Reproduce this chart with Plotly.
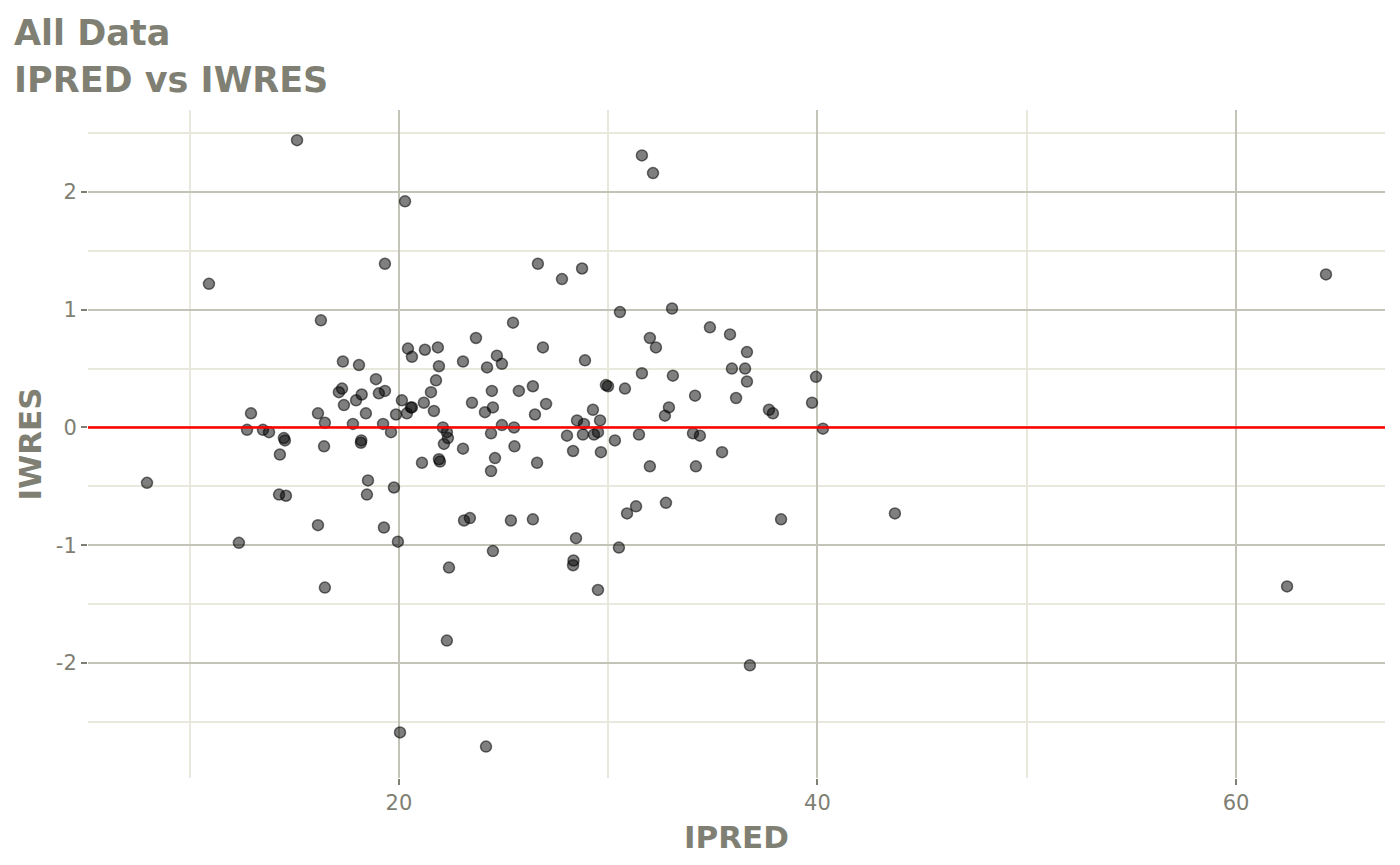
import pandas as pd
import plotly.express as px

# data
ipred = [
    7.96, 10.92, 12.35, 12.74, 12.93, 13.50, 13.79, 14.31, 14.27, 14.50,
    14.55, 14.60, 15.13, 16.13, 16.13, 16.27, 16.42, 16.46, 16.46, 17.13,
    17.28, 17.32, 17.37, 17.80, 17.95, 18.09, 18.18, 18.20, 18.22, 18.42,
    18.47, 18.52, 18.90, 19.04, 19.24, 19.33, 19.28, 19.33, 19.62, 19.76,
    19.86, 19.95, 20.05, 20.14, 20.29, 20.38, 20.43, 20.57, 20.62, 20.62,
    21.10, 21.19, 21.24, 21.53, 21.67, 21.77, 21.86, 21.91, 21.96, 21.91,
    22.10, 22.15, 22.29, 22.29, 22.39, 22.34, 23.06, 23.06, 23.11, 23.39,
    23.49, 23.68, 24.11, 24.21, 24.16, 24.40, 24.40, 24.44, 24.49, 24.49,
    24.59, 24.68, 24.92, 24.92, 25.35, 25.45, 25.50, 25.52, 25.73, 26.40,
    26.40, 26.50, 26.60, 26.64, 26.88, 27.03, 27.79, 28.03, 28.32, 28.32,
    28.34, 28.46, 28.51, 28.75, 28.79, 28.89, 28.84, 29.27, 29.32, 29.51,
    29.51, 29.61, 29.65, 29.89, 29.99, 30.32, 30.51, 30.56, 30.80, 30.90,
    31.33, 31.47, 31.61, 31.61, 31.99, 31.99, 32.14, 32.28, 32.71, 32.76,
    32.90, 33.05, 33.09, 34.05, 34.15, 34.19, 34.38, 34.86, 35.44, 35.82,
    35.91, 36.11, 36.54, 36.63, 36.63, 36.77, 37.68, 37.87, 38.26, 39.74,
    39.93, 40.26, 43.70, 62.44, 64.30,
]
iwres = [
    -0.47, 1.22, -0.98, -0.02, 0.12, -0.02, -0.04, -0.23, -0.57, -0.09,
    -0.11, -0.58, 2.44, -0.83, 0.12, 0.91, -0.16, 0.04, -1.36, 0.30,
    0.33, 0.56, 0.19, 0.03, 0.23, 0.53, -0.13, -0.11, 0.28, 0.12,
    -0.57, -0.45, 0.41, 0.29, 0.03, 0.31, -0.85, 1.39, -0.04, -0.51,
    0.11, -0.97, -2.59, 0.23, 1.92, 0.12, 0.67, 0.17, 0.17, 0.60,
    -0.30, 0.21, 0.66, 0.30, 0.14, 0.40, 0.68, -0.27, -0.29, 0.52,
    0.00, -0.14, -0.04, -1.81, -1.19, -0.09, 0.56, -0.18, -0.79, -0.77,
    0.21, 0.76, 0.13, 0.51, -2.71, -0.37, -0.05, 0.31, -1.05, 0.17,
    -0.26, 0.61, 0.54, 0.02, -0.79, 0.89, 0.00, -0.16, 0.31, 0.35,
    -0.78, 0.11, -0.30, 1.39, 0.68, 0.20, 1.26, -0.07, -0.20, -1.17,
    -1.13, -0.94, 0.06, 1.35, -0.06, 0.57, 0.03, 0.15, -0.06, -0.04,
    -1.38, 0.06, -0.21, 0.36, 0.35, -0.11, -1.02, 0.98, 0.33, -0.73,
    -0.67, -0.06, 0.46, 2.31, -0.33, 0.76, 2.16, 0.68, 0.10, -0.64,
    0.17, 1.01, 0.44, -0.05, 0.27, -0.33, -0.07, 0.85, -0.21, 0.79,
    0.50, 0.25, 0.50, 0.64, 0.39, -2.02, 0.15, 0.12, -0.78, 0.21,
    0.43, -0.01, -0.73, -1.35, 1.30,
]
y_ticks = [-2, -1, 0, 1, 2]
y_tick_labels = ['-2', '-1', '0', '1', '2']
title_lines = ['All Data', 'IPRED vs IWRES']

df = pd.DataFrame({'IPRED': ipred, 'IWRES': iwres})

text_grey = '#7f7f73'
major_grid = '#c3c3b7'
minor_grid = '#e8e8dc'

fig = px.scatter(df, x='IPRED', y='IWRES')
fig.update_traces(marker=dict(size=11, color='rgba(0,0,0,0.5)',
                              line=dict(color='rgba(0,0,0,0.55)', width=1.5)))

# reference line at zero
fig.add_hline(y=0, line_color='red', line_width=2.5)

# two-line title, placed by hand (left aligned like ggplot)
for txt, ypos in zip(title_lines, [1.115, 1.045]):
    fig.add_annotation(text=txt, xref='paper', yref='paper', x=-0.0585, y=ypos,
                       xanchor='left', yanchor='middle', showarrow=False,
                       font=dict(size=35, weight='bold', color=text_grey))

fig.update_layout(
    width=1400, height=865,
    plot_bgcolor='white', paper_bgcolor='white',
    margin=dict(l=80, r=23, t=102, b=95),
    font=dict(family='DejaVu Sans', color=text_grey),
    showlegend=False,
)
fig.update_xaxes(
    range=[5.14, 67.12], tick0=0, dtick=20,
    showgrid=True, gridcolor=major_grid, gridwidth=2,
    minor=dict(dtick=10, tick0=0, showgrid=True, gridcolor=minor_grid, gridwidth=2),
    zeroline=False, showline=False,
    ticks='outside', ticklen=6, tickwidth=2, tickcolor=text_grey,
    tickfont=dict(size=21, color=text_grey),
    title=dict(text='IPRED', standoff=12, font=dict(size=31, weight='bold', color=text_grey)),
)
fig.update_yaxes(
    range=[-2.977, 2.696], tickvals=y_ticks, ticktext=y_tick_labels,
    showgrid=True, gridcolor=major_grid, gridwidth=2,
    minor=dict(dtick=0.5, tick0=0, showgrid=True, gridcolor=minor_grid, gridwidth=2),
    zeroline=False, showline=False,
    ticks='outside', ticklen=6, tickwidth=2, tickcolor=text_grey,
    tickfont=dict(size=21, color=text_grey),
    title=dict(text='IWRES', standoff=4, font=dict(size=31, weight='bold', color=text_grey)),
)

fig.write_html("out.html")
